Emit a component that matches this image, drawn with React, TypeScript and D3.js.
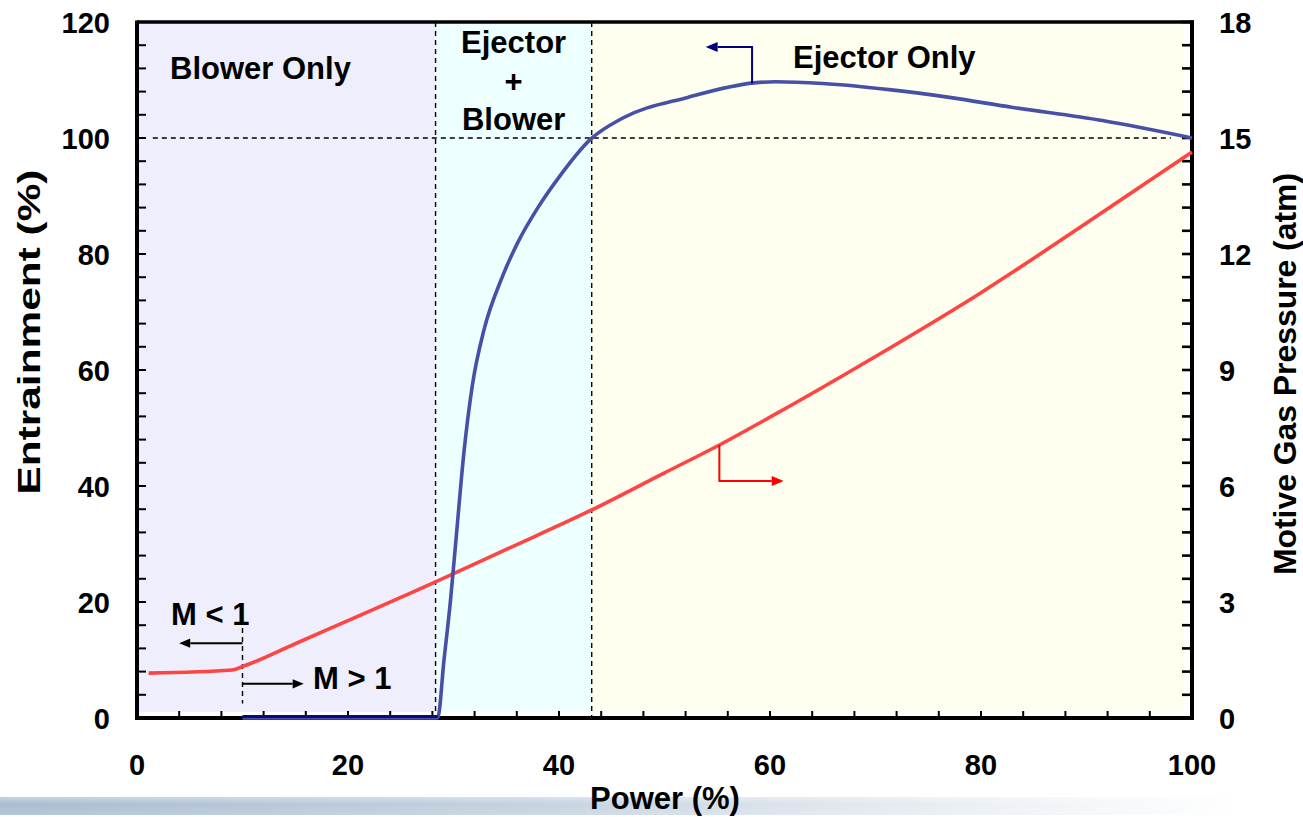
import React from 'react';
import * as d3 from 'd3';

// Axis tick labels
const powerTicks = [0, 20, 40, 60, 80, 100];
const entrainTicks = [0, 20, 40, 60, 80, 100, 120];
const pressureTicks = [0, 3, 6, 9, 12, 15, 18];

// Entrainment (%) versus power (%)
const entrainPower = [10, 28.5, 29.1, 29.7, 30.2, 31.0, 31.8, 32.9, 34.5, 36.1, 38.0, 39.9, 43.0, 46.0, 52.2, 58.5, 60.5, 65, 71.5, 77, 82.9, 91.5, 100];
const entrainValue = [0, 0, 10, 20, 30, 46, 57.5, 67, 75.5, 82, 88, 93, 99.8, 103.4, 107, 109.5, 109.7, 109.4, 108.3, 107, 105.3, 103, 100];

// Motive gas pressure (atm) versus power (%)
const pressurePower = [1.1, 9, 10, 15, 20, 25, 28.3, 35, 43.1, 50, 55.2, 60, 70, 80, 90, 100];
const pressureValue = [1.16, 1.24, 1.33, 1.92, 2.52, 3.12, 3.52, 4.36, 5.38, 6.34, 7.06, 7.78, 9.35, 11.0, 12.8, 14.64];

// Operating regimes
const regionNames = ['Blower Only', 'Ejector + Blower', 'Ejector Only'];
const regionEdges = [0, 28.3, 43.1, 99.3];
const machSplit = 10;
const fullEntrainment = 100;

const W = 1303;
const H = 817;
const FONT = '"Liberation Sans", Arial, Helvetica, sans-serif';

const x = d3.scaleLinear().domain([0, 100]).range([137, 1192]);
const yL = d3.scaleLinear().domain([0, 120]).range([718, 22]);
const yR = d3.scaleLinear().domain([0, 18]).range([718, 22]);

const entrainData = entrainPower.map((p, i) => [p, entrainValue[i]] as [number, number]);
const pressureData = pressurePower.map((p, i) => [p, pressureValue[i]] as [number, number]);

const entrainLine = d3
  .line<[number, number]>()
  .x((d) => x(d[0]))
  .y((d) => yL(d[1]))
  .curve(d3.curveMonotoneX);

const pressureLine = d3
  .line<[number, number]>()
  .x((d) => x(d[0]))
  .y((d) => yR(d[1]))
  .curve(d3.curveMonotoneX);

function Arrow({ pts, color, width, head }: { pts: [number, number][]; color: string; width: number; head: number }) {
  const n = pts.length;
  const [x1, y1] = pts[n - 2];
  const [x2, y2] = pts[n - 1];
  const ang = Math.atan2(y2 - y1, x2 - x1);
  const hw = head * 0.42;
  const bx = x2 - head * Math.cos(ang);
  const by = y2 - head * Math.sin(ang);
  const px = -Math.sin(ang);
  const py = Math.cos(ang);
  const shaft = pts.slice(0, n - 1).concat([[bx, by]]);
  return (
    <g>
      <polyline points={shaft.map((p) => p.join(',')).join(' ')} fill="none" stroke={color} strokeWidth={width} />
      <polygon
        points={`${x2},${y2} ${bx + px * hw},${by + py * hw} ${bx - px * hw},${by - py * hw}`}
        fill={color}
      />
    </g>
  );
}

export default function App() {
  const leftMinor = d3.range(0, 120.001, 4);
  const rightMinor = d3.range(0, 18.001, 0.6);
  const bottomMinor = d3.range(0, 100.001, 4);
  const regionFills = ['#EEEEFC', '#EEFFFF', '#FFFFF0'];

  const flatPart = entrainData.filter((d) => d[1] === 0);

  // pointer anchors on each curve
  const blueStart = 58.3;
  const blueStartY = 109.4;
  const redStart = 55.2;
  const redStartY = 7.06;

  return (
    <div style={{ position: 'absolute', left: 0, top: 0 }}>
      <svg width={W} height={H} style={{ display: 'block', fontFamily: FONT }}>
        <defs>
          <linearGradient id="footBar" x1="0" x2="1" y1="0" y2="0">
            <stop offset="0" stopColor="#A9BCD0" />
            <stop offset="0.45" stopColor="#C6D3E0" />
            <stop offset="0.8" stopColor="#EDF1F5" />
            <stop offset="1" stopColor="#FFFFFF" />
          </linearGradient>
          <linearGradient id="footShade" x1="0" x2="0" y1="0" y2="1">
            <stop offset="0" stopColor="#FFFFFF" stopOpacity="0.35" />
            <stop offset="0.4" stopColor="#FFFFFF" stopOpacity="0" />
            <stop offset="1" stopColor="#FFFFFF" stopOpacity="0.15" />
          </linearGradient>
        </defs>
        <rect x={0} y={0} width={W} height={H} fill="#FFFFFF" />
        <rect x={0} y={797} width={1240} height={18} fill="url(#footBar)" />
        <rect x={0} y={797} width={1240} height={18} fill="url(#footShade)" />

        {/* regime shading */}
        {regionFills.map((f, i) => (
          <rect
            key={i}
            x={x(regionEdges[i]) + (i === 0 ? 2 : 0)}
            y={yL(120)}
            width={x(regionEdges[i + 1]) - x(regionEdges[i]) - (i === 0 ? 2 : 0)}
            height={yL(0) - yL(120) - 6}
            fill={f}
          />
        ))}

        {/* dashed guides */}
        <line x1={x(1.5)} x2={x(98)} y1={yL(fullEntrainment)} y2={yL(fullEntrainment)} stroke="#000" strokeWidth={1.3} strokeDasharray="5,4" />
        {[regionEdges[1], regionEdges[2]].map((e) => (
          <line key={e} x1={x(e)} x2={x(e)} y1={yL(120)} y2={yL(0)} stroke="#000" strokeWidth={1.4} strokeDasharray="5,4" />
        ))}
        <line x1={x(machSplit)} x2={x(machSplit)} y1={yL(15.5)} y2={yL(2.5)} stroke="#000" strokeWidth={1.4} strokeDasharray="5,4" />

        {/* ticks */}
        {leftMinor.map((v) => (
          <line key={'l' + v} x1={x(0)} x2={x(0) + 9} y1={yL(v)} y2={yL(v)} stroke="#000" strokeWidth={2} />
        ))}
        {rightMinor.map((v) => (
          <line key={'r' + v} x1={x(100)} x2={x(100) - 10} y1={yR(v)} y2={yR(v)} stroke="#000" strokeWidth={2.6} />
        ))}
        {bottomMinor.map((v) => (
          <line key={'b' + v} x1={x(v)} x2={x(v)} y1={yL(0)} y2={yL(0) - 7} stroke="#000" strokeWidth={2} />
        ))}

        {/* frame */}
        <line x1={x(0)} x2={x(100) + 2} y1={yL(120)} y2={yL(120)} stroke="#000" strokeWidth={3.5} />
        <line x1={x(0)} x2={x(100) + 2} y1={yL(0)} y2={yL(0)} stroke="#000" strokeWidth={4} />
        <line x1={x(0)} x2={x(0)} y1={yL(120) - 1.5} y2={yL(0) + 2} stroke="#000" strokeWidth={4} />
        <line x1={x(100)} x2={x(100)} y1={yL(120) - 1.5} y2={yL(0) + 2} stroke="#000" strokeWidth={4} />

        {/* series */}
        <path d={pressureLine(pressureData) || ''} fill="none" stroke="#FF4444" strokeWidth={3.6} strokeLinejoin="round" />
        <path d={entrainLine(entrainData) || ''} fill="none" stroke="#4650A6" strokeWidth={3.6} strokeLinejoin="round" />
        <path d={d3.line<[number, number]>().x((d) => x(d[0])).y((d) => yL(d[1]) - 1.5)(flatPart) || ''} fill="none" stroke="#0A0A80" strokeWidth={3.2} />

        {/* series pointers */}
        <Arrow
          pts={[
            [x(blueStart), yL(blueStartY)],
            [x(blueStart), yL(115.7)],
            [x(53.9), yL(115.7)],
          ]}
          color="#000080"
          width={2}
          head={12}
        />
        <Arrow
          pts={[
            [x(redStart), yR(redStartY)],
            [x(redStart), yR(6.13)],
            [x(61.3), yR(6.13)],
          ]}
          color="#FF0000"
          width={2}
          head={12}
        />
        <Arrow
          pts={[
            [x(machSplit), yL(12.9)],
            [x(4.0), yL(12.9)],
          ]}
          color="#000"
          width={2}
          head={11}
        />
        <Arrow
          pts={[
            [x(machSplit), yL(5.9)],
            [x(15.8), yL(5.9)],
          ]}
          color="#000"
          width={2}
          head={11}
        />

        {/* tick labels */}
        <g fontSize={29} fontWeight="bold" fill="#000">
          {entrainTicks.map((v) => (
            <text key={'tl' + v} x={110} y={yL(v) + 10.5} textAnchor="end">
              {v}
            </text>
          ))}
          {pressureTicks.map((v) => (
            <text key={'tr' + v} x={1219} y={yR(v) + 10.5} textAnchor="start">
              {v}
            </text>
          ))}
          {powerTicks.map((v) => (
            <text key={'tb' + v} x={x(v)} y={775} textAnchor="middle">
              {v}
            </text>
          ))}
        </g>

        {/* axis titles */}
        <g fontSize={31} fontWeight="bold" fill="#000">
          <text x={665} y={809} textAnchor="middle">
            Power (%)
          </text>
          <text
            transform={`translate(40,${332}) rotate(-90)`}
            textAnchor="middle"
            textLength={325}
            lengthAdjust="spacingAndGlyphs"
          >
            Entrainment (%)
          </text>
          <text
            transform={`translate(1296,${374}) rotate(-90)`}
            textAnchor="middle"
            textLength={402}
            lengthAdjust="spacingAndGlyphs"
          >
            Motive Gas Pressure (atm)
          </text>
        </g>

        {/* regime labels */}
        <g fontSize={31} fontWeight="bold" fill="#000">
          <text x={170} y={79}>
            {regionNames[0]}
          </text>
          {regionNames[1].split(' ').map((w, i) => (
            <text key={w} x={(x(regionEdges[1]) + x(regionEdges[2])) / 2} y={53 + i * 38.5} textAnchor="middle">
              {w}
            </text>
          ))}
          <text x={793} y={68}>
            {regionNames[2]}
          </text>
          <text x={171} y={625}>
            M &lt; 1
          </text>
          <text x={313} y={689}>
            M &gt; 1
          </text>
        </g>
      </svg>
    </div>
  );
}
